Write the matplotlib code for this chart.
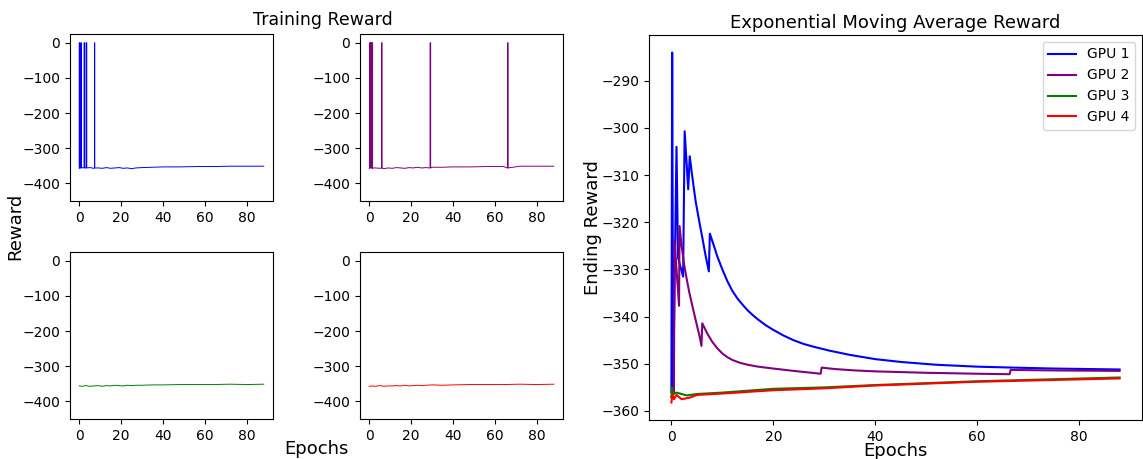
import matplotlib
matplotlib.use('Agg')
import matplotlib.pyplot as plt
import numpy as np

colors = ['blue', 'purple', 'green', 'red']
labels = ['GPU 1', 'GPU 2', 'GPU 3', 'GPU 4']

# raw reward per GPU: slow baseline plus spikes that reach 0
base_epoch = [0, 1.5, 3, 5, 7, 9, 11, 13, 15, 17, 19, 21, 23, 25, 27, 30, 35, 40, 48, 56, 64, 72, 80, 88]
gpu1_base = [-357, -355, -356, -355, -357, -356, -357, -355, -357, -356, -355, -357, -356, -358, -356, -355, -354, -353, -353, -352, -352, -351, -351, -351]
gpu2_base = [-357, -358, -356, -357, -358, -356, -357, -355, -356, -357, -355, -356, -354, -356, -355, -354, -354, -353, -353, -352, -352, -351, -351, -351]
gpu3_base = [-356, -357, -355, -357, -356, -355, -357, -355, -356, -354, -355, -356, -354, -355, -354, -354, -353, -353, -352, -352, -352, -351, -352, -351]
gpu4_base = [-357, -356, -357, -355, -357, -356, -356, -355, -356, -354, -356, -355, -354, -355, -354, -353, -354, -353, -352, -352, -352, -351, -352, -351]

gpu1_spike_lo = [0.0, 0.8, 2.3, 3.3, 7.3]
gpu1_spike_hi = [0.3, 1.0, 2.6, 3.6, 7.4]
gpu2_spike_lo = [0.2, 0.6, 1.2, 6.0, 29.0, 66.1]
gpu2_spike_hi = [0.4, 0.9, 1.6, 6.0, 29.3, 66.1]
gpu3_spike_lo = []
gpu3_spike_hi = []
gpu4_spike_lo = []
gpu4_spike_hi = []
spike_foot = -356
spike_top = 0

# exponential moving average curves
gpu1_ema_x = [0.0, 0.15, 0.35, 1.0, 1.3, 2.3, 2.6, 3.3, 3.6, 4.0, 4.75, 5.5, 6.06, 6.7, 7.35, 7.55,
              8.5, 9, 10, 11, 12, 13, 14, 15, 16, 17, 18.5, 20, 22, 24, 26, 28, 31, 35, 40, 45, 52, 60, 67, 75, 88]
gpu1_ema_y = [-356, -284, -355, -304, -327.5, -331.5, -300.7, -313, -306, -309.5, -315.5, -320, -323.2, -327, -330.4, -322.4,
              -325.5, -327.2, -330, -332.5, -334.6, -336.2, -337.5, -338.7, -339.7, -340.6, -341.8, -342.8, -344, -345, -345.8, -346.4, -347.2, -348.1, -349, -349.6, -350.2, -350.6, -350.8, -351, -351.2]
gpu2_ema_x = [0.0, 0.5, 0.6, 1.5, 1.6, 2.0, 2.5, 3.0, 3.5, 4.0, 4.5, 5.0, 5.5, 5.9, 6.06,
              7, 8, 9, 10, 11, 12, 13.5, 15, 17, 20, 24, 29.3, 29.5, 32, 36, 40, 50, 60, 66.4, 66.6, 75, 88]
gpu2_ema_y = [-357, -356, -323.7, -337.7, -320.8, -325, -329, -332, -334.8, -337.2, -339.5, -341.8, -344, -346.2, -341.4,
              -343.5, -345.3, -346.7, -347.8, -348.6, -349.2, -349.8, -350.2, -350.6, -351, -351.5, -352.1, -350.8, -351.1, -351.4, -351.6, -351.9, -352.1, -352.2, -351.3, -351.4, -351.5]
gpu3_ema_x = [0.0, 0.1, 0.3, 1.0, 3.0, 5.0, 10, 20, 30, 40, 60, 88]
gpu3_ema_y = [-357, -355, -356.5, -356.1, -356.7, -356.4, -356.1, -355.3, -355.0, -354.5, -353.7, -352.9]
gpu4_ema_x = [0.0, 0.2, 0.5, 1.0, 2.0, 3.5, 5.0, 10, 20, 30, 40, 60, 88]
gpu4_ema_y = [-358.2, -356.3, -357.5, -356.6, -357.5, -357.2, -356.6, -356.3, -355.6, -355.2, -354.6, -353.8, -353.1]


def raw_series(bx, by, lo, hi):
    pts = [(x, 0, y) for x, y in zip(bx, by)]
    for a, b in zip(lo, hi):
        pts += [(a, 1, spike_foot), (a, 2, spike_top), (b, 3, spike_top), (b, 4, spike_foot)]
    pts.sort(key=lambda p: (p[0], p[1]))
    return [p[0] for p in pts], [p[2] for p in pts]


raw = [(gpu1_base, gpu1_spike_lo, gpu1_spike_hi),
       (gpu2_base, gpu2_spike_lo, gpu2_spike_hi),
       (gpu3_base, gpu3_spike_lo, gpu3_spike_hi),
       (gpu4_base, gpu4_spike_lo, gpu4_spike_hi)]
ema = [(gpu1_ema_x, gpu1_ema_y), (gpu2_ema_x, gpu2_ema_y),
       (gpu3_ema_x, gpu3_ema_y), (gpu4_ema_x, gpu4_ema_y)]

W, H = 1143, 459
fig = plt.figure(figsize=(W / 100, H / 100), dpi=100)

def box(l, t, r, b):
    return [l / W, 1 - b / H, (r - l) / W, (b - t) / H]

small_boxes = [box(70, 34, 273, 201), box(360, 34, 563, 201),
               box(70, 252, 273, 419), box(360, 252, 563, 419)]

for i in range(4):
    ax = fig.add_axes(small_boxes[i])
    base, lo, hi = raw[i]
    x, y = raw_series(base_epoch, base, lo, hi)
    ax.plot(x, y, color=colors[i], linewidth=0.7)
    ax.set_ylim(-450, 25)
    ax.set_yticks([0, -100, -200, -300, -400])
    ax.set_xticks([0, 20, 40, 60, 80])

fig.text(323 / W, 1 - 20 / H, 'Training Reward', ha='center', va='center', fontsize=12.5)
fig.text(15 / W, 1 - 226 / H, 'Reward', ha='center', va='center', rotation=90, fontsize=13)
fig.text(316 / W, 1 - 449 / H, 'Epochs', ha='center', va='center', fontsize=13)

ax = fig.add_axes(box(649, 35, 1142, 420))
for i in range(4):
    ax.plot(ema[i][0], ema[i][1], color=colors[i], linewidth=1.5, label=labels[i])
ax.set_title('Exponential Moving Average Reward', fontsize=13, pad=5)
ax.set_xlabel('Epochs', fontsize=13)
ax.xaxis.set_label_coords(0.5, -0.056)
ax.set_ylabel('Ending Reward', fontsize=13)
ax.yaxis.set_label_coords(-0.095, 0.5)
ax.legend(loc='upper right')

fig.savefig('out.png', dpi=100)
